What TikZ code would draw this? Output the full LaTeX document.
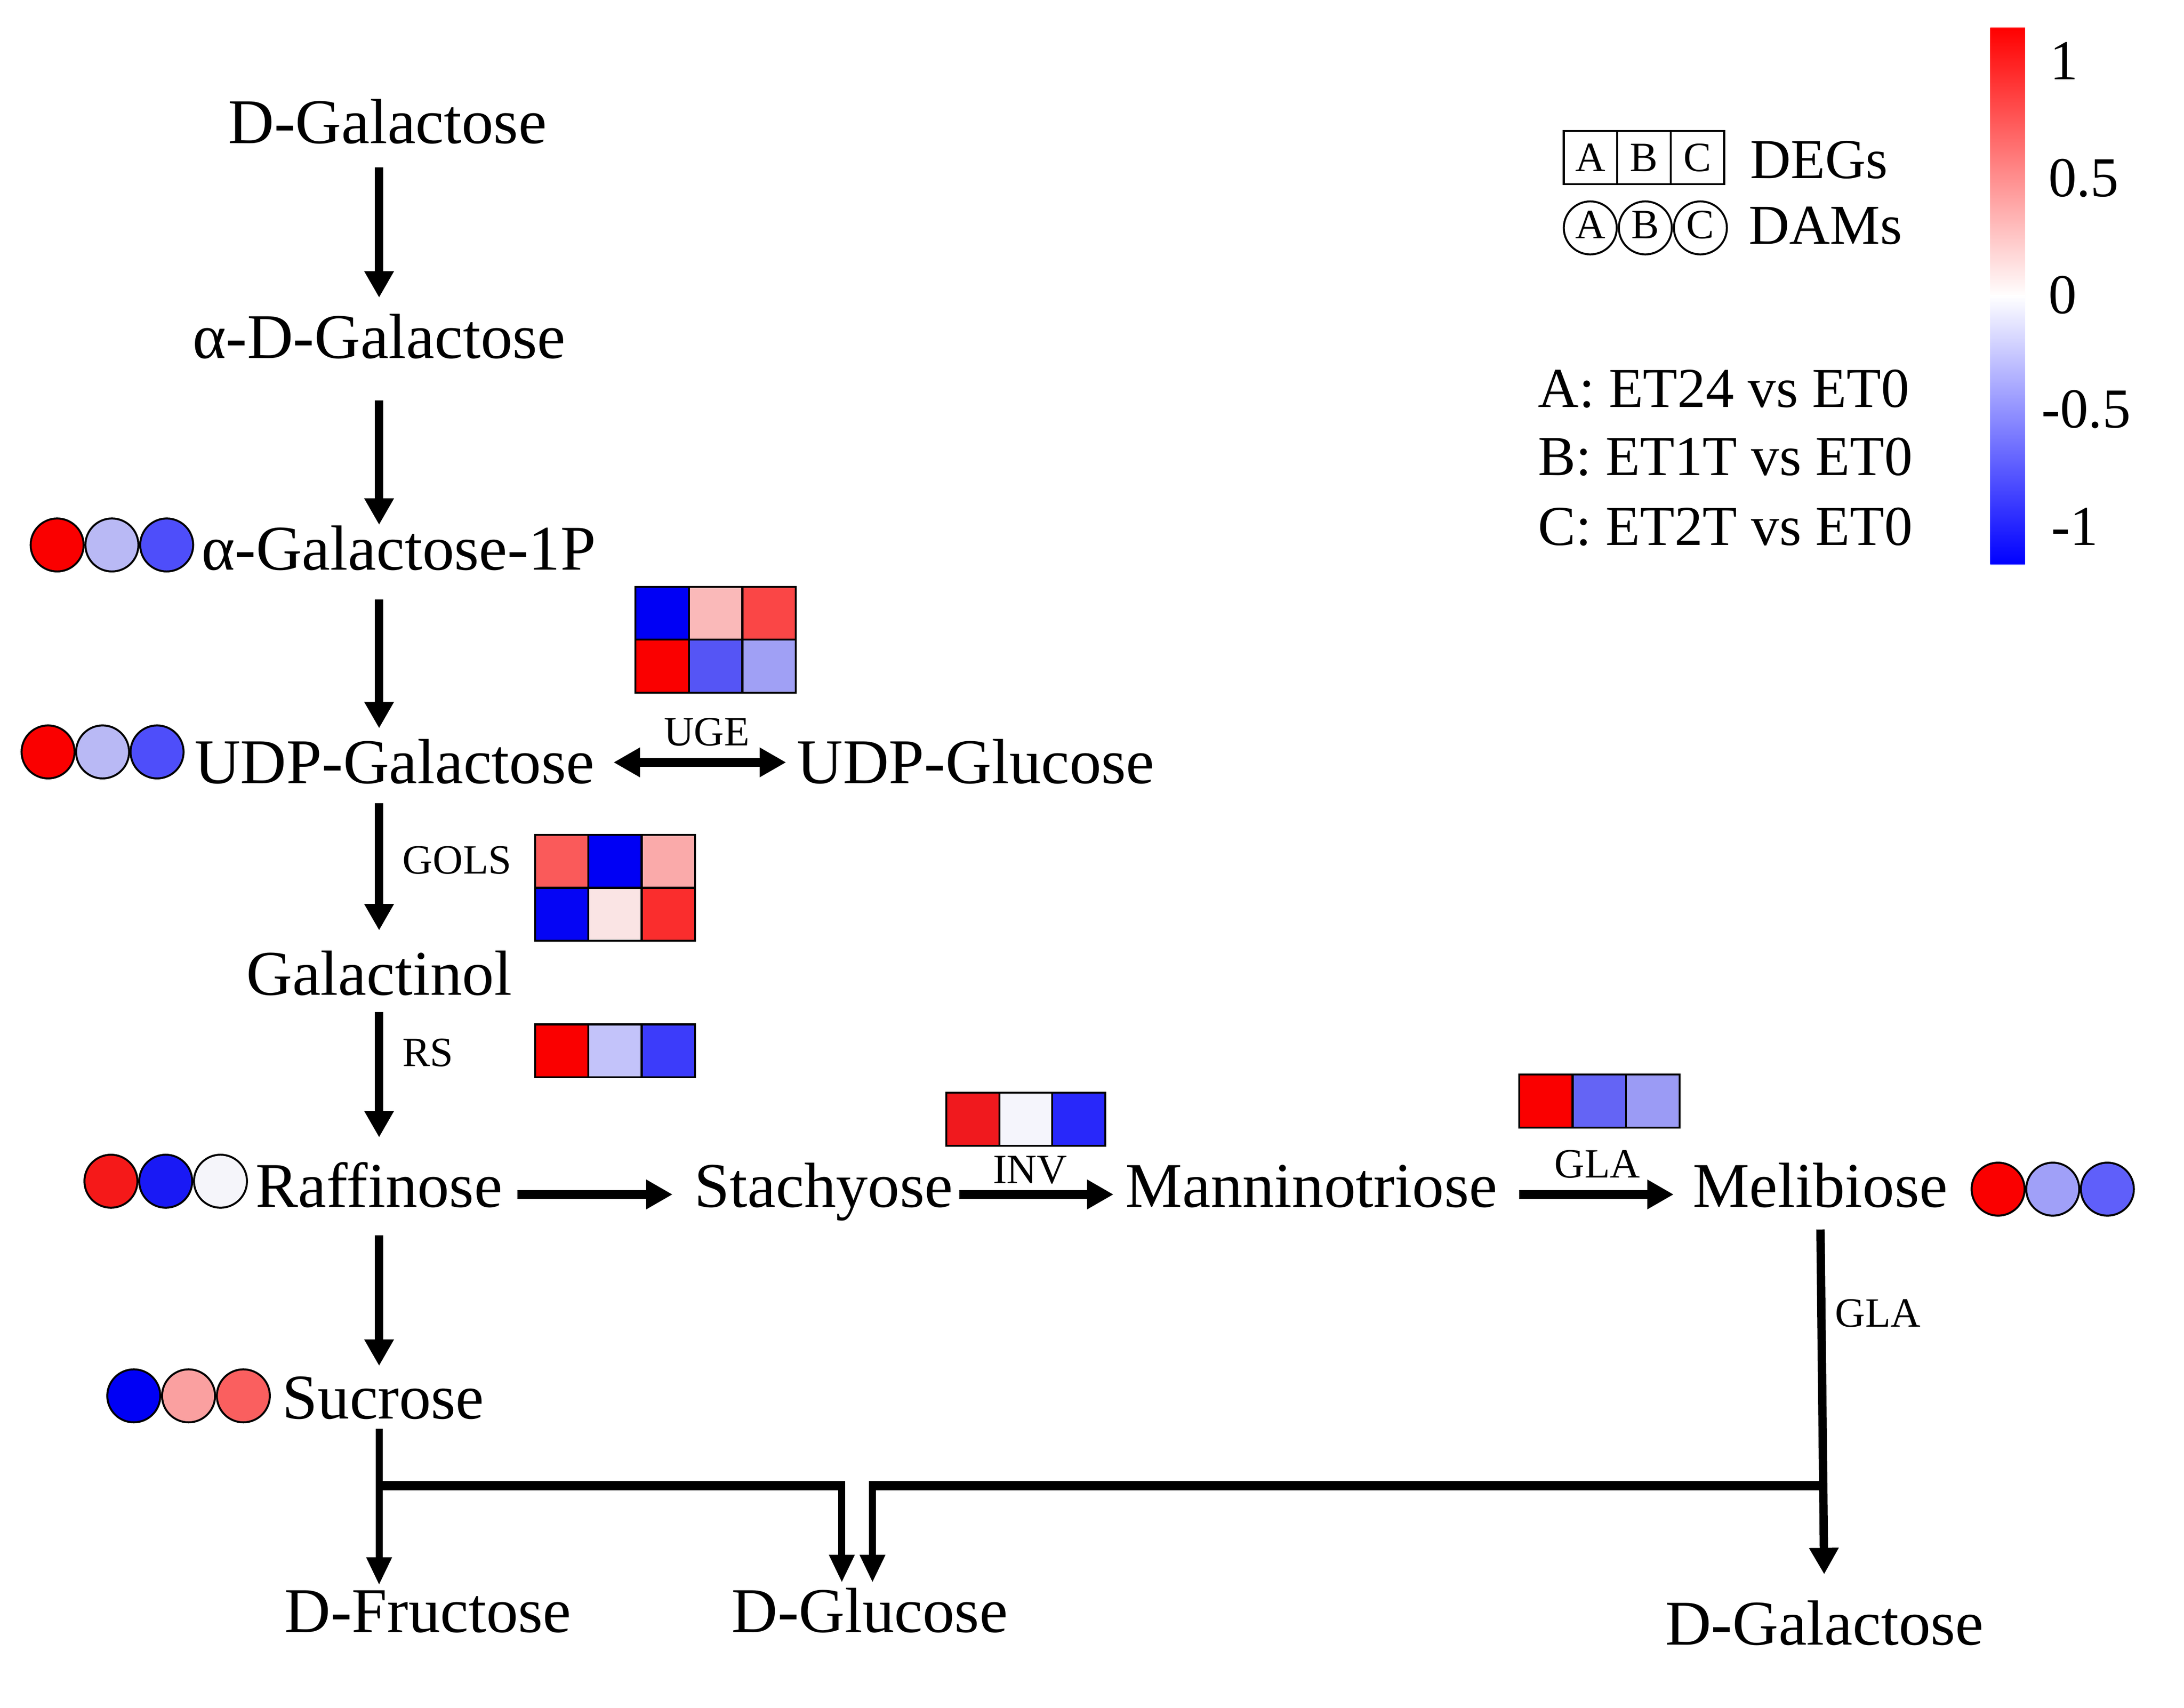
\documentclass[tikz,border=0pt]{standalone}
\usepackage{fontspec}
\setmainfont{Liberation Serif}
\usetikzlibrary{arrows.meta,positioning}

% heatmap cells (DEGs)
\definecolor{ugeAa}{RGB}{0,0,245}
\definecolor{ugeAb}{RGB}{250,185,185}
\definecolor{ugeAc}{RGB}{250,70,70}
\definecolor{ugeBa}{RGB}{250,0,0}
\definecolor{ugeBb}{RGB}{85,85,245}
\definecolor{ugeBc}{RGB}{160,160,245}
\definecolor{golsAa}{RGB}{250,90,90}
\definecolor{golsAb}{RGB}{0,0,245}
\definecolor{golsAc}{RGB}{250,170,170}
\definecolor{golsBa}{RGB}{5,5,245}
\definecolor{golsBb}{RGB}{250,228,228}
\definecolor{golsBc}{RGB}{250,45,45}
\definecolor{rsa}{RGB}{250,0,0}
\definecolor{rsb}{RGB}{195,195,250}
\definecolor{rsc}{RGB}{60,60,250}
\definecolor{inva}{RGB}{240,25,30}
\definecolor{invb}{RGB}{245,245,252}
\definecolor{invc}{RGB}{40,40,250}
\definecolor{glaa}{RGB}{250,0,0}
\definecolor{glab}{RGB}{100,100,245}
\definecolor{glac}{RGB}{155,155,245}
% circles (DAMs)
\definecolor{galpa}{RGB}{250,0,0}
\definecolor{galpb}{RGB}{185,185,245}
\definecolor{galpc}{RGB}{78,78,250}
\definecolor{raffa}{RGB}{245,25,25}
\definecolor{raffb}{RGB}{25,25,245}
\definecolor{raffc}{RGB}{245,245,250}
\definecolor{sucra}{RGB}{0,0,245}
\definecolor{sucrb}{RGB}{250,160,160}
\definecolor{sucrc}{RGB}{250,95,95}
\definecolor{meliba}{RGB}{250,0,0}
\definecolor{melibb}{RGB}{160,160,248}
\definecolor{melibc}{RGB}{95,95,250}

\begin{document}
\begin{tikzpicture}[x=0.01cm,y=-0.01cm,
  metab/.style={font=\fontsize{13}{15}\selectfont,inner sep=0pt,anchor=base},
  enz/.style={font=\fontsize{8.5}{10}\selectfont,inner sep=0pt,anchor=base},
  leg/.style={font=\fontsize{11.5}{13}\selectfont,inner sep=0pt,anchor=base west},
  letter/.style={font=\fontsize{8.5}{10}\selectfont,inner sep=0pt,anchor=base},
  arr/.style={line width=0.06cm,-{Triangle[length=0.19cm,width=0.2cm]}},
  harr/.style={line width=0.065cm,-{Triangle[length=0.19cm,width=0.2cm]}},
  dharr/.style={line width=0.065cm,{Triangle[length=0.19cm,width=0.2cm]}-{Triangle[length=0.19cm,width=0.2cm]}},
  barr/.style={line width=0.05cm,-{Triangle[length=0.2cm,width=0.17cm]}},
  bar/.style={line width=0.068cm},
  cell/.style={draw=black,line width=0.4pt},
  dot/.style={draw=black,line width=0.4pt}]

\fill[white] (0,0) rectangle (1567,1225.4);
\useasboundingbox (0,0) rectangle (1567,1225.4);

\coordinate (col) at (272,0);

% metabolites
\node[metab] (dgal) at (278,103) {D-Galactose};
\node[metab] (adgal) at (272,257) {α-D-Galactose};
\node[metab] (gal1p) at (286,409) {α-Galactose-1P};
\node[metab] (udpgal) at (283,562) {UDP-Galactose};
\node[metab] (udpglc) at (700,562) {UDP-Glucose};
\node[metab] (galnol) at (272,714) {Galactinol};
\node[metab] (raff) at (272,866) {Raffinose};
\node[metab] (stach) at (591,866) {Stachyose};
\node[metab] (mann) at (941,866) {Manninotriose};
\node[metab] (melib) at (1306,866) {Melibiose};
\node[metab] (sucr) at (275,1018) {Sucrose};
\node[metab] (fruc) at (307,1171) {D-Fructose};
\node[metab] (gluc) at (624,1171) {D-Glucose};
\node[metab] (dgalb) at (1309,1180) {D-Galactose};

% enzymes
\node[enz] (uge) at (507,535) {UGE};
\node[enz] (gols) at (328,627) {GOLS};
\node[enz] (rs) at (307,765) {RS};
\node[enz] (inv) at (739,849) {INV};
\node[enz] (glaa) at (1146,845) {GLA};
\node[enz,anchor=base west] (glab) at (1316,952) {GLA};

% main column
\draw[arr,shorten <=0.16cm,shorten >=0.11cm] (dgal.south -| col) -- (adgal.north -| col);
\draw[arr,shorten <=0.29cm] (adgal.south -| col) -- (gal1p.north -| col);
\draw[arr,shorten <=0.2cm,shorten >=0.07cm] (gal1p.south -| col) -- (udpgal.north -| col);
\draw[arr,shorten <=0.13cm,shorten >=0.14cm] (udpgal.south -| col) -- (galnol.north -| col);
\draw[arr,shorten <=0.11cm,shorten >=0.17cm] (galnol.south -| col) -- (raff.north -| col);
\draw[arr,shorten <=0.19cm,shorten >=0.07cm] (raff.south -| col) -- (sucr.north -| col);

\draw[dharr,shorten <=0.13cm,shorten >=0.07cm] ([yshift=0.15cm]udpgal.base east) -- ([yshift=0.15cm]udpglc.base west);
\draw[harr,shorten <=0.1cm,shorten >=0.15cm] ([yshift=0.09cm]raff.base east) -- ([yshift=0.09cm]stach.base west);
\draw[harr,shorten <=0.04cm,shorten >=0.08cm] ([yshift=0.09cm]stach.base east) -- ([yshift=0.09cm]mann.base west);
\draw[harr,shorten <=0.15cm,shorten >=0.13cm] ([yshift=0.09cm]mann.base east) -- ([yshift=0.09cm]melib.base west);

% hydrolysis to monosaccharides
\coordinate (jl) at (272,1066);
\coordinate (gl) at (604,1066);
\coordinate (gr) at (626,1066);
\coordinate (jr) at (1308,1066);
\draw[barr,shorten <=0.06cm,shorten >=0.03cm] (sucr.south -| col) -- (fruc.north -| col);
\draw[arr,shorten <=0.15cm,shorten >=0.18cm] (melib.south) -- (dgalb.north);
\draw[bar] (jl) -- ([xshift=0.025cm]gl);
\draw[bar] ([xshift=-0.025cm]gr) -- (jr);
\draw[barr,shorten >=0.03cm] (gl) -- (gluc.north -| gl);
\draw[barr,shorten >=0.03cm] (gr) -- (gluc.north -| gr);

% heatmaps
\foreach \c [count=\i from 0] in {ugeAa,ugeAb,ugeAc}
  \filldraw[cell,fill=\c] (456+\i*38.33,421) rectangle ++(38.33,38);
\foreach \c [count=\i from 0] in {ugeBa,ugeBb,ugeBc}
  \filldraw[cell,fill=\c] (456+\i*38.33,459) rectangle ++(38.33,38);
\foreach \c [count=\i from 0] in {golsAa,golsAb,golsAc}
  \filldraw[cell,fill=\c] (384+\i*38.2,599) rectangle ++(38.2,38);
\foreach \c [count=\i from 0] in {golsBa,golsBb,golsBc}
  \filldraw[cell,fill=\c] (384+\i*38.2,637) rectangle ++(38.2,38);
\foreach \c [count=\i from 0] in {rsa,rsb,rsc}
  \filldraw[cell,fill=\c] (384+\i*38.2,735) rectangle ++(38.2,38);
\foreach \c [count=\i from 0] in {inva,invb,invc}
  \filldraw[cell,fill=\c] (679+\i*38,784) rectangle ++(38,38);
\foreach \c [count=\i from 0] in {glaa,glab,glac}
  \filldraw[cell,fill=\c] (1090+\i*38.33,771) rectangle ++(38.33,38);

% metabolite circles
\foreach \c [count=\i from 0] in {galpa,galpb,galpc}
  \filldraw[dot,fill=\c] (41+\i*39.3,391) circle (0.19cm);
\foreach \c [count=\i from 0] in {galpa,galpb,galpc}
  \filldraw[dot,fill=\c] (34.5+\i*39.1,539.5) circle (0.19cm);
\foreach \c [count=\i from 0] in {raffa,raffb,raffc}
  \filldraw[dot,fill=\c] (79.6+\i*39.3,847.5) circle (0.19cm);
\foreach \c [count=\i from 0] in {sucra,sucrb,sucrc}
  \filldraw[dot,fill=\c] (96+\i*39.3,1001.5) circle (0.19cm);
\foreach \c [count=\i from 0] in {meliba,melibb,melibc}
  \filldraw[dot,fill=\c] (1433.6+\i*39.2,853.2) circle (0.19cm);

% legend
\draw[cell] (1122,94) rectangle (1237,132);
\draw[cell] (1160.3,94) -- (1160.3,132) (1198.7,94) -- (1198.7,132);
\foreach \l [count=\i from 0] in {A,B,C} {
  \node[letter] (deg\l) at (1141.2+\i*38.33,123) {\l};
  \draw[dot,fill=white] (1141+\i*39.5,163.5) circle (0.19cm);
  \node[letter] (dam\l) at (1141+\i*39.5,171) {\l};
}
\node[leg] (degs) at (1255,128) {DEGs};
\node[leg] (dams) at (1254,175) {DAMs};
\node[leg] (cmpa) at (1103,292) {A: ET24 vs ET0};
\node[leg] (cmpb) at (1103,341) {B: ET1T vs ET0};
\node[leg] (cmpc) at (1103,391) {C: ET2T vs ET0};

% colour scale
\shade[top color=red,bottom color=white] (1428,20) rectangle (1453,213);
\shade[top color=white,bottom color=blue] (1428,212) rectangle (1453,405);
\node[leg] (tkA) at (1470,57) {1};
\node[leg] (tkB) at (1469,141) {0.5};
\node[leg] (tkC) at (1469,225) {0};
\node[leg] (tkD) at (1464,307) {-0.5};
\node[leg] (tkE) at (1471,391) {-1};

\end{tikzpicture}
\end{document}
